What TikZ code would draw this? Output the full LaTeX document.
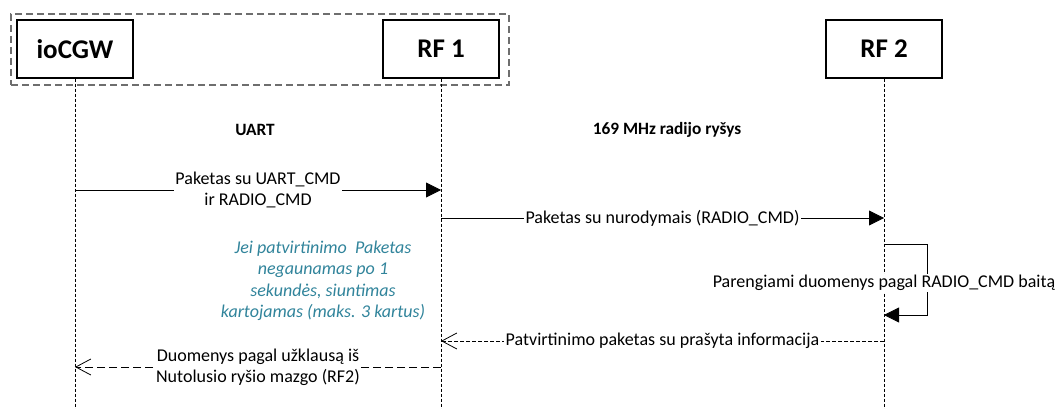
\documentclass[tikz,border=0pt]{standalone}
\usepackage{fontspec}
\setmainfont{Carlito}
\usetikzlibrary{arrows.meta}
\definecolor{noteteal}{RGB}{49,132,155}
\definecolor{groupgray}{RGB}{110,110,110}
\begin{document}
\begin{tikzpicture}[x=1pt,y=-1pt,
  actor/.style={draw,line width=1.3pt,minimum width=116pt,minimum height=58pt,
    inner sep=0pt,font=\bfseries\fontsize{27}{32}\selectfont},
  grouping/.style={draw=groupgray,line width=1.1pt,dash pattern=on 7pt off 4pt,
    minimum width=498pt,minimum height=71pt,inner sep=0pt},
  lifeline/.style={line width=0.7pt,dash pattern=on 3pt off 2pt},
  call/.style={line width=0.8pt,-{Triangle[length=15pt,width=15pt]}},
  answer/.style={line width=0.8pt,-{Straight Barb[length=15pt,width=16pt,line width=0.8pt]}},
  shortdash/.style={dash pattern=on 4pt off 2pt},
  longdash/.style={dash pattern=on 8pt off 4pt},
  msglabel/.style={fill=white,inner sep=1.5pt,align=center,
    font=\fontsize{18}{21}\selectfont},
  heading/.style={font=\bfseries\fontsize{17.3}{20}\selectfont},
  note/.style={align=center,text=noteteal,
    font=\itshape\fontsize{18}{21.5}\selectfont},
]
\path[use as bounding box] (0,0) rectangle (1061,409);

% group around gateway and first radio node
\node[grouping] (grp) at (260,49.5) {};

% participants
\node[actor,fill=white] (io)  at (75,49)  {ioCGW};
\node[actor,fill=white] (rf1) at (441,49) {RF 1};
\node[actor,fill=white] (rf2) at (884,49) {RF 2};

% lifeline ends
\coordinate (io-end)  at (75,409);
\coordinate (rf1-end) at (441,409);
\coordinate (rf2-end) at (884,409);
\draw[lifeline] (io.south)  -- (io-end);
\draw[lifeline] (rf1.south) -- (rf1-end);
\draw[lifeline] (rf2.south) -- (rf2-end);

% link headings
\node[heading] (uart)  at (255,130) {UART};
\node[heading] (radio) at (667,130) {169 MHz radijo ryšys};

% message anchor points on the lifelines
\coordinate (io-m1)  at (75,190);
\coordinate (rf1-m1) at (441,190);
\coordinate (rf1-m2) at (441,218);
\coordinate (rf2-m2) at (884,218);
\coordinate (rf2-l1) at (884,244);
\coordinate (loop-a) at (927,244);
\coordinate (loop-b) at (927,315);
\coordinate (rf2-l2) at (884,315);
\coordinate (rf2-m3) at (884,341);
\coordinate (rf1-m3) at (441,341);
\coordinate (rf1-m4) at (441,367);
\coordinate (io-m4)  at (75,367);

% messages
\draw[call] (io-m1) -- node[msglabel] (m1) {Paketas su UART\_CMD\\ir RADIO\_CMD} (rf1-m1);
\draw[call] (rf1-m2) -- node[msglabel] (m2) {Paketas su nurodymais (RADIO\_CMD)} (rf2-m2);
\draw[call] (rf2-l1) -- (loop-a) -- (loop-b) -- (rf2-l2);
\node[msglabel] (loop) at (884,283) {Parengiami duomenys pagal RADIO\_CMD baitą};
\draw[answer,shortdash] (rf2-m3) -- node[msglabel] (m3) {Patvirtinimo paketas su prašyta informacija} (rf1-m3);
\draw[answer,longdash] (rf1-m4) -- node[msglabel] (m4) {Duomenys pagal užklausą iš\\Nutolusio ryšio mazgo (RF2)} (io-m4);

% retry note
\node[note] (retry) at (323,281) {Jei patvirtinimo\ \ Paketas\\negaunamas po 1\\sekundės, siuntimas\\kartojamas (maks. 3 kartus)};
\end{tikzpicture}
\end{document}
